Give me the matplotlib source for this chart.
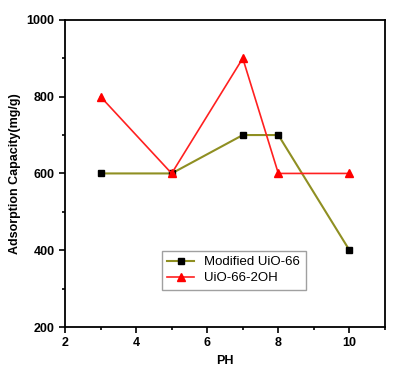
import matplotlib.pyplot as plt
from matplotlib.ticker import MultipleLocator

ph = [3, 5, 7, 8, 10]
modified = [600, 600, 700, 700, 400]
uio_2oh = [800, 600, 900, 600, 600]

plt.rcParams['font.family'] = ['Liberation Sans', 'DejaVu Sans']

fig = plt.figure(figsize=(4, 3.75), dpi=100)
ax = fig.add_axes([0.1625, 0.128, 0.8, 0.819])

ax.plot(ph, modified, color='#8f8f22', marker='s', markersize=5,
        markerfacecolor='black', markeredgecolor='black', lw=1.5, label='Modified UiO-66')
ax.plot(ph, uio_2oh, color='#ff2020', marker='^', markersize=6,
        markerfacecolor='red', markeredgecolor='red', lw=1.2, label='UiO-66-2OH')

ax.set_xlim(2, 11)
ax.set_ylim(200, 1000)
ax.xaxis.set_major_locator(MultipleLocator(2))
ax.xaxis.set_minor_locator(MultipleLocator(1))
ax.yaxis.set_major_locator(MultipleLocator(200))
ax.yaxis.set_minor_locator(MultipleLocator(100))
ax.tick_params(which='both', direction='out', width=1.2, labelsize=9)
ax.tick_params(which='major', length=4)
ax.tick_params(which='minor', length=2.5)
for lbl in ax.get_xticklabels() + ax.get_yticklabels():
    lbl.set_fontweight('bold')
for s in ax.spines.values():
    s.set_linewidth(1.3)

ax.set_xlabel('PH', fontsize=9, fontweight='bold')
ax.set_ylabel('Adsorption Capacity(mg/g)', fontsize=9, fontweight='bold')

ax.legend(loc='lower left', bbox_to_anchor=(0.283, 0.1), fancybox=False,
          edgecolor='#888888', fontsize=9.5, handlelength=2.0, borderpad=0.4,
          labelspacing=0.3)

fig.savefig('out.png')
